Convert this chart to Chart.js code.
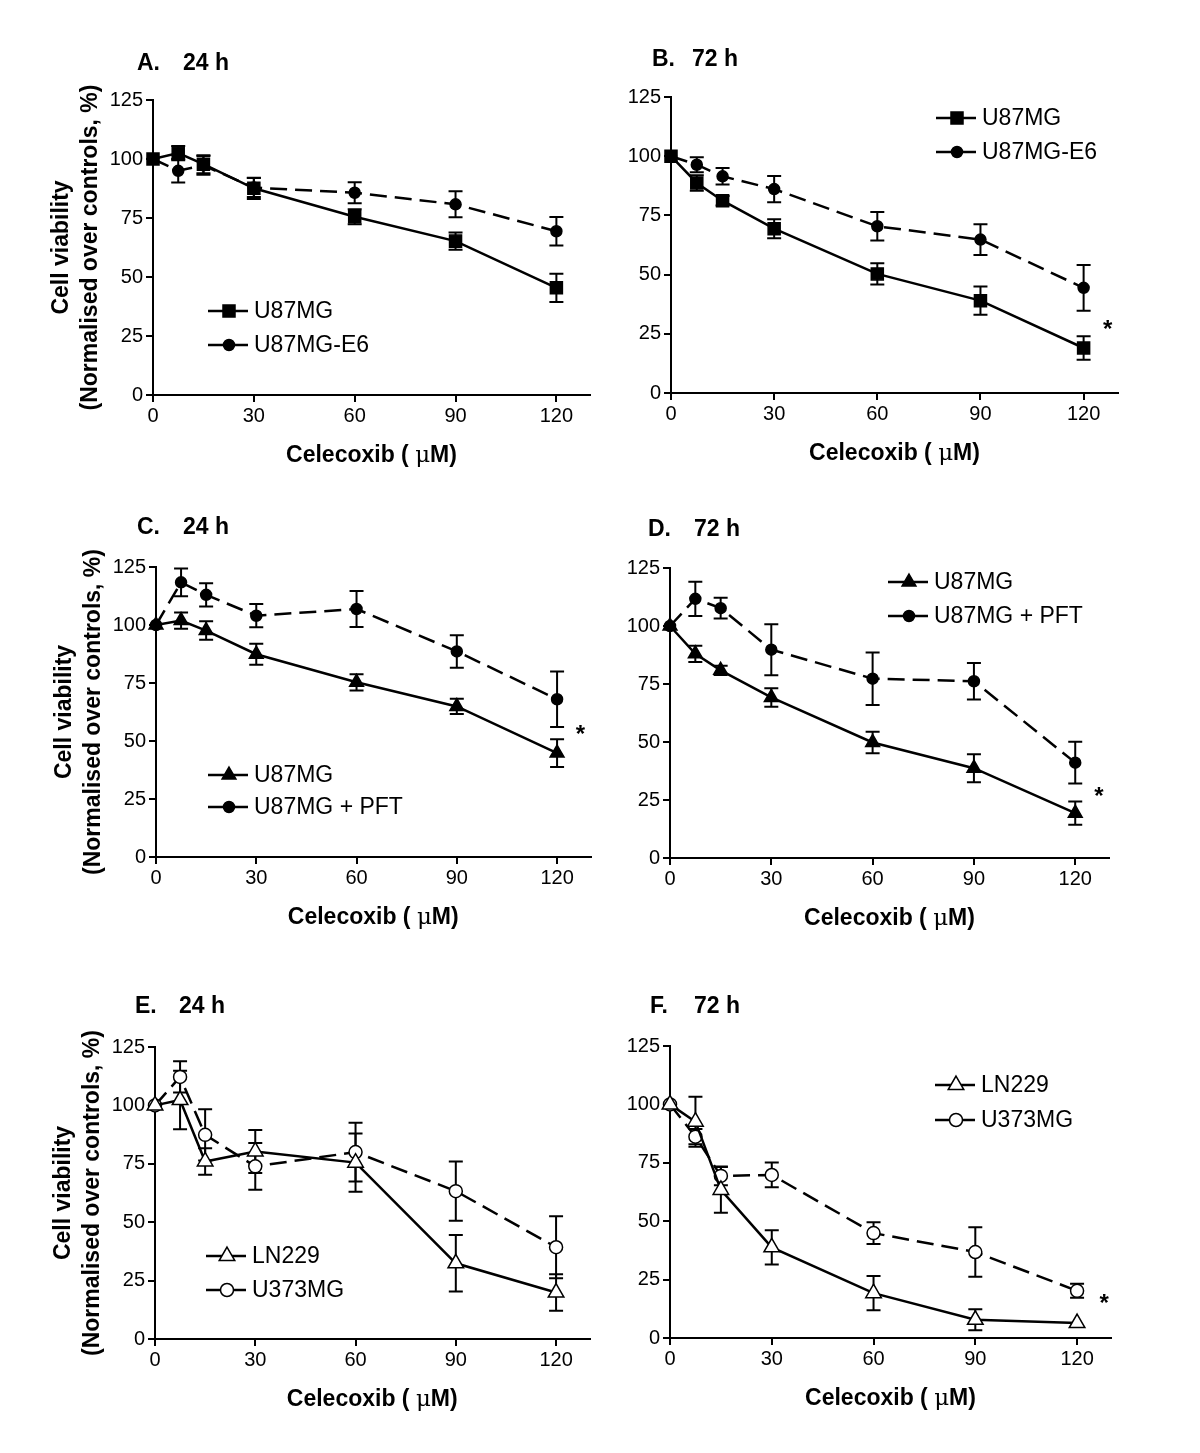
<!DOCTYPE html>
<html>
<head>
<meta charset="utf-8">
<script src="https://cdn.jsdelivr.net/npm/chart.js@4.4.0/dist/chart.umd.min.js"></script>
<style>
  html, body { margin: 0; padding: 0; background: #fff; }
  body { width: 1200px; height: 1453px; position: relative; overflow: hidden; }
  canvas { position: absolute; }
</style>
</head>
<body>
<canvas id="panelA"></canvas>
<canvas id="panelB"></canvas>
<canvas id="panelC"></canvas>
<canvas id="panelD"></canvas>
<canvas id="panelE"></canvas>
<canvas id="panelF"></canvas>
<script>
'use strict';

// celecoxib dose (uM) and axis ticks
const dose = [0, 7.5, 15, 30, 60, 90, 120];
const xTicks = [0, 30, 60, 90, 120];
const yTicks = [0, 25, 50, 75, 100, 125];

// A. 24 h
const aU87 = [100, 102.5, 97.8, 87.6, 75.5, 65.2, 45.4];
const aU87Err = [0, 3, 3.8, 4.5, 3.2, 3.7, 6];
const aE6 = [100, 95, 97.3, 87.9, 85.7, 80.8, 69.4];
const aE6Err = [0, 5, 4, 4, 4.5, 5.5, 6];

// B. 72 h
const bU87 = [100, 88.7, 81.2, 69.4, 50.3, 39, 19];
const bU87Err = [0, 3.3, 2, 4, 4.5, 6, 5];
const bE6 = [100, 96.4, 91.5, 86.1, 70.4, 64.8, 44.4];
const bE6Err = [0, 3.2, 3.5, 5.5, 6, 6.5, 9.7];

// C. 24 h
const cU87 = [100, 101.9, 97.6, 87.4, 75.3, 64.9, 44.8];
const cU87Err = [0, 3.5, 4, 4.5, 3.5, 3.3, 6];
const cPft = [100, 118.4, 113, 104, 106.9, 88.6, 68];
const cPftErr = [0, 6, 5, 5, 7.8, 7, 12];

// D. 72 h
const dU87 = [100, 88, 80.9, 69.2, 49.8, 38.7, 19.3];
const dU87Err = [0, 3.5, 2, 4, 4.6, 6, 5];
const dPft = [100, 111.7, 107.7, 89.8, 77.3, 76.2, 41.1];
const dPftErr = [0, 7.4, 4.5, 11, 11.3, 7.9, 9];

// E. 24 h
const eLn229 = [100, 102.3, 76, 80.3, 75.5, 32.4, 19.9];
const eLn229Err = [0, 12.5, 5.7, 9.2, 12.5, 12.1, 7.8];
const eU373 = [100, 112.2, 87.4, 73.9, 80, 63.3, 39.3];
const eU373Err = [0, 6.7, 11, 10, 12.6, 12.7, 13.3];

// F. 72 h
const fLn229 = [100, 92.6, 63.4, 38.8, 19.2, 7.8, 6.4];
const fLn229Err = [0, 10.7, 9.8, 7.3, 7.3, 4.5, 0];
const fU373 = [100, 86.2, 69.4, 69.8, 44.9, 36.8, 20.2];
const fU373Err = [0, 3.3, 4, 5.3, 4.7, 10.6, 3];

const FONT = '"Liberation Sans", Arial, sans-serif';
const Y_W = 50;   // fixed y axis box width
const X_H = 40;   // fixed x axis box height

// marker styles
const filledSquare = { pointStyle: 'rect', radius: 8.5, fill: '#000' };
const filledDot = { pointStyle: 'circle', radius: 5.5, fill: '#000' };
const filledTri = { pointStyle: 'triangle', radius: 8, fill: '#000' };
const openTri = { pointStyle: 'triangle', radius: 9, fill: '#fff' };
const openDot = { pointStyle: 'circle', radius: 6.5, fill: '#fff' };

const panels = [
  { id: 'panelA', letter: 'A.', time: '24 h', box: [0, 0, 600, 480], area: [153, 100, 597, 395],
    yTitle: true, letterX: -16, timeX: 30, titleY: -36, legend: [55, 211, 34], star: null,
    series: [
      { label: 'U87MG', vals: aU87, err: aU87Err, mark: filledSquare, dashed: false },
      { label: 'U87MG-E6', vals: aE6, err: aE6Err, mark: filledDot, dashed: true }
    ] },
  { id: 'panelB', letter: 'B.', time: '72 h', box: [600, 0, 600, 480], area: [671, 97, 1118, 393],
    yTitle: false, letterX: -19, timeX: 21, titleY: -37, legend: [265, 21, 34], star: [127, 28],
    series: [
      { label: 'U87MG', vals: bU87, err: bU87Err, mark: filledSquare, dashed: false },
      { label: 'U87MG-E6', vals: bE6, err: bE6Err, mark: filledDot, dashed: true }
    ] },
  { id: 'panelC', letter: 'C.', time: '24 h', box: [0, 480, 600, 470], area: [156, 567, 594, 857],
    yTitle: true, letterX: -19, timeX: 27, titleY: -39, legend: [52, 208, 32], star: [127, 54],
    series: [
      { label: 'U87MG', vals: cU87, err: cU87Err, mark: filledTri, dashed: false },
      { label: 'U87MG + PFT', vals: cPft, err: cPftErr, mark: filledDot, dashed: true }
    ] },
  { id: 'panelD', letter: 'D.', time: '72 h', box: [600, 480, 600, 470], area: [670, 568, 1109, 858],
    yTitle: false, letterX: -22, timeX: 24, titleY: -38, legend: [218, 14, 34], star: [127, 28],
    series: [
      { label: 'U87MG', vals: dU87, err: dU87Err, mark: filledTri, dashed: false },
      { label: 'U87MG + PFT', vals: dPft, err: dPftErr, mark: filledDot, dashed: true }
    ] },
  { id: 'panelE', letter: 'E.', time: '24 h', box: [0, 950, 600, 503], area: [155, 1047, 596, 1339],
    yTitle: true, letterX: -20, timeX: 24, titleY: -40, legend: [51, 209, 34], star: null,
    series: [
      { label: 'LN229', vals: eLn229, err: eLn229Err, mark: openTri, dashed: false },
      { label: 'U373MG', vals: eU373, err: eU373Err, mark: openDot, dashed: true }
    ] },
  { id: 'panelF', letter: 'F.', time: '72 h', box: [600, 950, 600, 503], area: [670, 1046, 1111, 1338],
    yTitle: false, letterX: -20, timeX: 24, titleY: -39, legend: [265, 39, 35], star: [128, 16],
    series: [
      { label: 'LN229', vals: fLn229, err: fLn229Err, mark: openTri, dashed: false },
      { label: 'U373MG', vals: fU373, err: fU373Err, mark: openDot, dashed: true }
    ] }
];

// vertical SEM bars, under the markers
const errorBars = {
  id: 'errorBars',
  beforeDatasetsDraw(chart) {
    const ctx = chart.ctx;
    const xs = chart.scales.x, ys = chart.scales.y;
    ctx.save();
    ctx.strokeStyle = '#000';
    ctx.lineWidth = 2;
    ctx.setLineDash([]);
    chart.data.datasets.forEach(ds => {
      ds.data.forEach((p, i) => {
        const e = ds.err[i];
        if (!e) return;
        const px = xs.getPixelForValue(p.x);
        const top = ys.getPixelForValue(p.y + e);
        const bot = ys.getPixelForValue(p.y - e);
        ctx.beginPath();
        ctx.moveTo(px, top); ctx.lineTo(px, bot);
        ctx.moveTo(px - 7, top); ctx.lineTo(px + 7, top);
        ctx.moveTo(px - 7, bot); ctx.lineTo(px + 7, bot);
        ctx.stroke();
      });
    });
    ctx.restore();
  }
};

// titles, axis labels, legend and asterisk
const panelText = {
  id: 'panelText',
  afterDraw(chart, args, opts) {
    const ctx = chart.ctx;
    const a = chart.chartArea;
    const p = opts.panel;
    ctx.save();
    ctx.fillStyle = '#000';
    ctx.textBaseline = 'middle';
    ctx.textAlign = 'left';

    // panel title
    ctx.font = 'bold 23px ' + FONT;
    ctx.fillText(p.letter, a.left + p.letterX, a.top + p.titleY);
    ctx.fillText(p.time, a.left + p.timeX, a.top + p.titleY);

    // x axis title, mu in a lighter face
    const parts = [['Celecoxib ( ', 'bold 23px ' + FONT], ['\u03bc', '23px "DejaVu Serif", serif'], ['M)', 'bold 23px ' + FONT]];
    let total = 0;
    parts.forEach(q => { ctx.font = q[1]; total += ctx.measureText(q[0]).width; });
    let tx = (a.left + a.right) / 2 - total / 2;
    parts.forEach(q => {
      ctx.font = q[1];
      ctx.fillText(q[0], tx, a.bottom + 61);
      tx += ctx.measureText(q[0]).width;
    });

    // y axis title
    if (p.yTitle) {
      ctx.font = 'bold 23px ' + FONT;
      ctx.textAlign = 'center';
      const cy = (a.top + a.bottom) / 2;
      [['Cell viability', -91], ['(Normalised over controls, %)', -62]].forEach(t => {
        ctx.save();
        ctx.translate(a.left + t[1], cy);
        ctx.rotate(-Math.PI / 2);
        ctx.fillText(t[0], 0, 0);
        ctx.restore();
      });
    }

    // legend
    const lx = a.left + p.legend[0];
    chart.data.datasets.forEach((ds, i) => {
      const ly = a.top + p.legend[1] + i * p.legend[2];
      ctx.strokeStyle = '#000';
      ctx.lineWidth = 2.5;
      ctx.setLineDash(ds.borderDash);
      ctx.beginPath();
      ctx.moveTo(lx, ly);
      ctx.lineTo(lx + 40, ly);
      ctx.stroke();
      ctx.setLineDash([]);
      ctx.fillStyle = ds.pointBackgroundColor;
      ctx.lineWidth = ds.pointBorderWidth;
      Chart.helpers.drawPoint(ctx, {
        pointStyle: ds.pointStyle, radius: ds.pointRadius, rotation: 0, borderWidth: ds.pointBorderWidth
      }, lx + 21, ly);
      ctx.fillStyle = '#000';
      ctx.font = '23px ' + FONT;
      ctx.textAlign = 'left';
      ctx.fillText(ds.label, lx + 46, ly + 1);
    });

    // significance mark
    if (p.star) {
      ctx.font = 'bold 24px ' + FONT;
      ctx.textAlign = 'center';
      ctx.fillText('*', chart.scales.x.getPixelForValue(p.star[0]), chart.scales.y.getPixelForValue(p.star[1]) + 4);
    }
    ctx.restore();
  }
};

function renderPanel(p) {
  const canvas = document.getElementById(p.id);
  const [bx, by, bw, bh] = p.box;
  const [al, at, ar, ab] = p.area;
  canvas.width = bw;
  canvas.height = bh;
  canvas.style.left = bx + 'px';
  canvas.style.top = by + 'px';

  const datasets = p.series.map(s => ({
    label: s.label,
    data: dose.map((d, i) => ({ x: d, y: s.vals[i] })),
    err: s.err,
    borderColor: '#000',
    borderWidth: 2.5,
    borderDash: s.dashed ? [17, 8] : [],
    pointStyle: s.mark.pointStyle,
    pointRadius: s.mark.radius,
    pointHoverRadius: s.mark.radius,
    pointBackgroundColor: s.mark.fill,
    pointBorderColor: '#000',
    pointBorderWidth: 1.5,
    tension: 0,
    fill: false,
    clip: false
  }));

  const axisCommon = {
    grid: { display: true, drawOnChartArea: false, drawTicks: true, tickLength: 7, color: '#000', lineWidth: 2 },
    border: { display: true, color: '#000', width: 2 }
  };

  new Chart(canvas, {
    type: 'line',
    data: { datasets: datasets },
    options: {
      responsive: false,
      animation: false,
      events: [],
      layout: {
        padding: {
          left: al - bx - Y_W,
          top: at - by,
          right: bx + bw - ar,
          bottom: by + bh - ab - X_H
        }
      },
      scales: {
        x: Object.assign({
          type: 'linear', min: 0, max: 130,
          afterBuildTicks: s => { s.ticks = xTicks.map(v => ({ value: v })); },
          afterFit: s => { s.height = X_H; },
          ticks: { color: '#000', font: { family: FONT, size: 20 }, padding: 2, maxRotation: 0, autoSkip: false }
        }, axisCommon),
        y: Object.assign({
          type: 'linear', min: 0, max: 125,
          afterBuildTicks: s => { s.ticks = yTicks.map(v => ({ value: v })); },
          afterFit: s => { s.width = Y_W; },
          ticks: { color: '#000', font: { family: FONT, size: 20 }, padding: 3, autoSkip: false }
        }, axisCommon)
      },
      plugins: {
        legend: { display: false },
        tooltip: { enabled: false },
        panelText: { panel: p }
      }
    },
    plugins: [errorBars, panelText]
  });
}

panels.forEach(renderPanel);
</script>
</body>
</html>
